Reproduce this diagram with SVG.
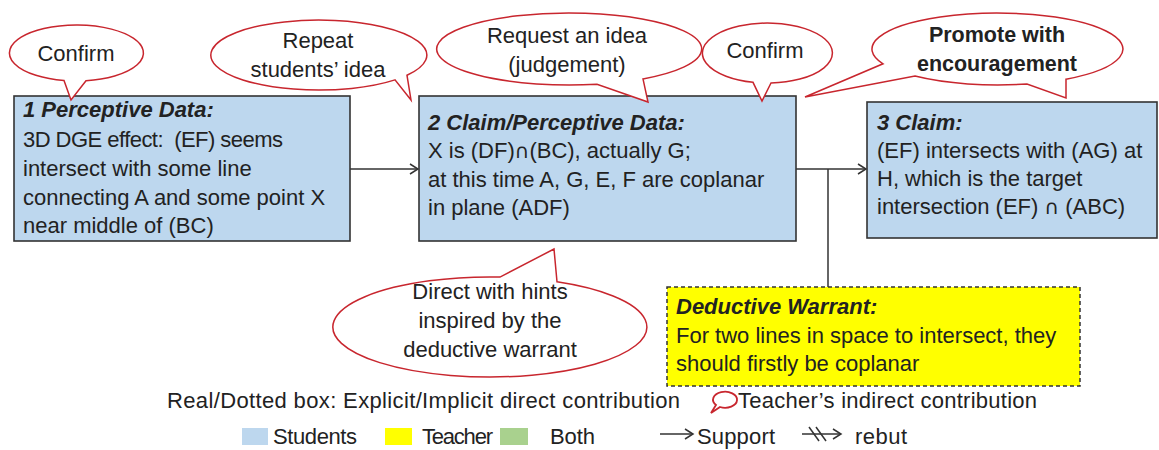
<svg xmlns="http://www.w3.org/2000/svg" width="1159" height="450" viewBox="0 0 1159 450">
<defs>
<style>
text{font-family:"Liberation Sans",Arial,sans-serif;font-size:22px;fill:#222}
.t{font-weight:bold;font-style:italic}
.c{text-anchor:middle}
.b{font-weight:bold;font-size:21.5px}
.cap{font-family:"DejaVu Sans",sans-serif;font-size:20px}
.box{fill:#BDD7EE;stroke:#333;stroke-width:1.6}
.warr{fill:#FFFF00;stroke:#333;stroke-width:1.5;stroke-dasharray:4 3}
.bub{fill:#fff;stroke:#C8262E;stroke-width:1.5;stroke-linejoin:miter}
.ln{fill:none;stroke:#333;stroke-width:1.5}
</style>
<marker id="ah" markerWidth="12" markerHeight="12" refX="10" refY="6" orient="auto" markerUnits="userSpaceOnUse">
<path d="M2,1 L10,6 L2,11" fill="none" stroke="#333" stroke-width="1.5"/>
</marker>
</defs>

<g id="node1">
<rect class="box" x="14" y="96" width="336" height="145"/>
<text x="23" y="117" class="t">1 Perceptive Data:</text>
<text x="23" y="147" style="white-space:pre" textLength="260">3D DGE effect:  (EF) seems</text>
<text x="23" y="176">intersect with some line</text>
<text x="23" y="205">connecting A and some point X</text>
<text x="23" y="233">near middle of (BC)</text>
</g>

<g id="node2">
<rect class="box" x="419" y="96" width="377" height="145"/>
<text x="428" y="130" class="t">2 Claim/Perceptive Data:</text>
<text x="428" y="158">X is (DF)<tspan class="cap">∩</tspan>(BC), actually G;</text>
<text x="428" y="187">at this time A, G, E, F are coplanar</text>
<text x="428" y="215">in plane (ADF)</text>
</g>

<g id="node3">
<rect class="box" x="867" y="102" width="290" height="136"/>
<text x="877" y="130" class="t">3 Claim:</text>
<text x="877" y="158">(EF) intersects with (AG) at</text>
<text x="877" y="186">H, which is the target</text>
<text x="877" y="214">intersection (EF) <tspan class="cap">∩</tspan> (ABC)</text>
</g>

<g id="warrant">
<rect class="warr" x="667" y="287" width="413" height="99"/>
<text x="676" y="314" class="t">Deductive Warrant:</text>
<text x="676" y="343">For two lines in space to intersect, they</text>
<text x="676" y="371">should firstly be coplanar</text>
</g>

<g id="connectors">
<line class="ln" x1="350" y1="169" x2="418" y2="169" marker-end="url(#ah)"/>
<line class="ln" x1="796" y1="169" x2="866" y2="169" marker-end="url(#ah)"/>
<line class="ln" x1="828" y1="169" x2="828" y2="287"/>
</g>

<g id="bubble-confirm1">
<path class="bub" d="M86,80.7 L71,100 L64,80.5 A67,28 0 1 1 86,80.7 Z"/>
<text x="76" y="61" class="c">Confirm</text>
</g>

<g id="bubble-repeat">
<path class="bub" d="M407,75.3 L411,100 L395,79.9 A108,35 0 1 1 407,75.3 Z"/>
<text x="318" y="48" class="c">Repeat</text>
<text x="318" y="77" class="c">students’ idea</text>
</g>

<g id="bubble-request">
<path class="bub" d="M643,78.9 L648,102 L597,84.2 A132.5,36 0 1 1 643,78.9 Z"/>
<text x="567" y="43" class="c">Request an idea</text>
<text x="567" y="72" class="c">(judgement)</text>
</g>

<g id="bubble-confirm2">
<path class="bub" d="M771,83 L762,101 L753,82.3 A65,30 0 1 1 771,83 Z"/>
<text x="765" y="58" class="c">Confirm</text>
</g>

<g id="bubble-promote">
<path class="bub" d="M1066,79.2 L1066,98 L1027,84 A125.5,36 0 0 1 915,76.1 L805,97 L883,63.8 A125.5,36 0 1 1 1066,79.2 Z"/>
<text x="997" y="42" class="c b">Promote with</text>
<text x="997" y="71" class="c b">encouragement</text>
</g>

<g id="bubble-direct">
<path class="bub" d="M557,281.8 L554,249 L500,277.1 A157,50 0 1 0 557,281.8 Z"/>
<text x="490" y="299" class="c">Direct with hints</text>
<text x="490" y="328" class="c">inspired by the</text>
<text x="490" y="357" class="c">deductive warrant</text>
</g>

<g id="legend">
<text x="167" y="408" textLength="513">Real/Dotted box: Explicit/Implicit direct contribution</text>
<path d="M711,413 L716,405 A12,8 0 1 1 720,407 Z" fill="#fff" stroke="#C8262E" stroke-width="1.8"/>
<text x="738" y="408" textLength="299">Teacher’s indirect contribution</text>
<rect x="242" y="428" width="26" height="17" fill="#BDD7EE"/>
<text x="273" y="444" textLength="84">Students</text>
<rect x="385" y="428" width="27" height="17" fill="#FFFF00"/>
<text x="422" y="444" textLength="71">Teacher</text>
<rect x="500" y="428" width="28" height="17" fill="#A9D18E"/>
<text x="550" y="444" textLength="45">Both</text>
<line class="ln" x1="660" y1="434" x2="693" y2="434" marker-end="url(#ah)"/>
<text x="697" y="444" textLength="78">Support</text>
<line class="ln" x1="802" y1="434" x2="841" y2="434" marker-end="url(#ah)"/>
<line class="ln" x1="809" y1="427" x2="819" y2="441"/>
<line class="ln" x1="816" y1="427" x2="826" y2="441"/>
<text x="855" y="444" textLength="52">rebut</text>
</g>
</svg>
